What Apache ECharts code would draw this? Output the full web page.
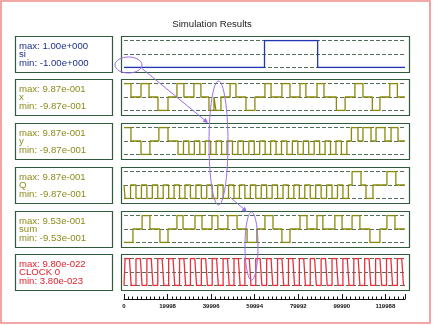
<!DOCTYPE html>
<html>
<head>
<meta charset="utf-8">
<script src="https://cdn.jsdelivr.net/npm/echarts@6/dist/echarts.min.js"></script>
<style>
  html, body { margin: 0; padding: 0; background: #fff; }
  #chart { width: 433px; height: 325px; }
</style>
</head>
<body>
<div id="chart"></div>
<script>
// time axis
const T_END = 129000
const tickStep = 19998

// panel labels
const names = ['si', 'x', 'y', 'Q', 'sum', 'CLOCK 0']
const maxLabels = ['1.00e+000', '9.87e-001', '9.87e-001', '9.87e-001', '9.53e-001', '9.80e-022']
const minLabels = ['-1.00e+000', '-9.87e-001', '-9.87e-001', '-9.87e-001', '-9.53e-001', '3.80e-023']

// signals: [time, level] change points (level -1 = min, 0 = middle, 1 = max)
const siSteps = [[0, -1], [64500, 1], [88900, -1]]
const xSteps = [[0, 1], [3200, 0], [7800, 1], [11500, 0], [15600, -1], [20200, 0], [24300, 1], [27500, 0],
  [32100, 1], [35300, 0], [39000, -1], [41300, 0], [42200, -1], [44500, 0], [48700, 1], [51400, 0],
  [56000, -1], [60100, 0], [64700, 1], [67500, 0], [72500, 1], [76200, 0], [80800, 1], [83500, 0],
  [88600, 1], [91800, 0], [97500, -1], [101500, 0], [106000, 1], [109700, 0], [114000, -1], [117500, 0],
  [122000, 1], [125500, 0]]
const ySteps = [[0, 1], [3200, 0], [7800, -1], [11900, 0], [16000, 1], [20200, 0],
  [24800, -1], [27300, 0], [29800, -1], [32300, 0], [34800, -1], [37300, 0], [39800, -1], [42300, 0],
  [44800, -1], [47300, 0], [49800, -1], [52300, 0], [54800, -1], [57300, 0], [59800, -1], [62300, 0],
  [64800, -1], [67300, 0], [69800, -1], [72300, 0], [74800, -1], [77300, 0], [79800, -1], [82300, 0],
  [84800, -1], [87300, 0], [89800, -1], [92300, 0], [94800, -1], [97300, 0], [99800, -1], [102300, 0],
  [104400, 1], [107400, 0], [109700, 1], [113400, 0], [115700, 1], [119800, 0], [122600, 1], [125800, 0]]
const qSteps = [[0, 0], [500, -1], [3000, 0], [5500, -1], [8000, 0], [10500, -1], [13000, 0],
  [15500, -1], [18000, 0], [20500, -1], [23000, 0], [25500, -1], [28000, 0], [30500, -1], [33000, 0],
  [35500, -1], [38000, 0], [40500, -1], [43000, 0], [45500, -1], [48000, 0], [50500, -1], [53000, 0],
  [55500, -1], [58000, 0], [60500, -1], [63000, 0], [65500, -1], [68000, 0], [70500, -1], [73000, 0],
  [75500, -1], [78000, 0], [80500, -1], [83000, 0], [85500, -1], [88000, 0], [90500, -1], [93000, 0],
  [95500, -1], [98000, 0], [100500, -1], [103000, 0], [104700, 1], [108800, 0], [111100, -1], [114300, 0],
  [120700, 1], [124800, 0]]
const sumSteps = [[0, -1], [4100, 0], [8300, 1], [11900, 0], [16500, -1], [20200, 0], [24300, 1], [27100, 0],
  [32600, 1], [35800, 0], [40400, 1], [43100, 0], [47700, 1], [51900, 0], [56500, -1], [61000, 0],
  [64700, 1], [68400, 0], [72500, -1], [76200, 0], [80800, 1], [84000, 0], [88600, 1], [91300, 0],
  [96800, 1], [100100, 0], [104700, 1], [108300, 0], [112900, -1], [117500, 0], [120700, 1], [124400, 0]]
// clock: [rise, fall starts, fall ends]
const clockEdges = [[500, 2500, 3300], [5500, 7500, 8300], [10500, 12500, 13300], [15500, 17500, 18300],
  [20500, 22500, 23300], [25500, 27500, 28300], [30500, 32500, 33300], [35500, 37500, 38300],
  [40500, 42500, 43300], [45500, 47500, 48300], [50500, 52500, 53300], [55500, 57500, 58300],
  [60500, 62500, 63300], [65500, 67500, 68300], [70500, 72500, 73300], [75500, 77500, 78300],
  [80500, 82500, 83300], [85500, 87500, 88300], [90500, 92500, 93300], [95500, 97500, 98300],
  [100500, 102500, 103300], [105500, 107500, 108300], [110500, 112500, 113300], [115500, 117500, 118300],
  [120500, 122500, 123300], [125500, 127500, 128300]]

const BLUE = '#2236b4'
const OLIVE = '#8a8a0c'
const RED = '#e8303c'
const BOX = '#2f5a3c'
const DASH = '#52705a'
const colors = [BLUE, OLIVE, OLIVE, OLIVE, OLIVE, RED]
const labelColors = ['#1c2f8a', '#8c8c1c', '#8c8c1c', '#8c8c1c', '#8c8c1c', '#e3202a']

const boxTop = [36, 79, 123, 167, 211, 254]
const boxH = 36

const withEnd = (steps) => steps.concat([[T_END, steps[steps.length - 1][1]]])

const clockData = [[0, -1]]
clockEdges.forEach((e) => {
  clockData.push([e[0], -1], [e[0], 1], [e[1], 1], [e[2], -1])
})
clockData.push([T_END, -1])

const signals = [siSteps, xSteps, ySteps, qSteps, sumSteps].map(withEnd)
signals.push(clockData)

const grid = []
const xAxis = []
const yAxis = []
const series = []
boxTop.forEach((top, i) => {
  grid.push({ left: 124, width: 281, top: top + 4.5, height: 27 })
  xAxis.push({ gridIndex: i, type: 'value', min: 0, max: T_END, show: false })
  yAxis.push({
    gridIndex: i,
    type: 'value',
    min: -1,
    max: 1,
    interval: 1,
    axisLine: { show: false },
    axisTick: { show: false },
    axisLabel: { show: false },
    splitLine: { show: true, lineStyle: { color: DASH, type: [4, 2], width: 1 } },
  })
  series.push({
    type: 'line',
    xAxisIndex: i,
    yAxisIndex: i,
    data: signals[i],
    step: i === 5 ? false : 'end',
    showSymbol: false,
    animation: false,
    lineStyle: { color: colors[i], width: 1.3 },
  })
})

// time axis under the panels
grid.push({ left: 124, width: 281, top: 298, height: 1 })
xAxis.push({
  gridIndex: 6,
  type: 'value',
  min: 0,
  max: T_END,
  interval: tickStep,
  axisLine: { lineStyle: { color: '#111', width: 1 } },
  axisTick: { inside: true, length: 5, lineStyle: { color: '#111' } },
  minorTick: { show: true, splitNumber: 10, length: 2.5, lineStyle: { color: '#111' } },
  splitLine: { show: false },
  axisLabel: {
    fontSize: 6,
    fontWeight: 'bold',
    color: '#111',
    margin: 4,
    fontFamily: 'Liberation Sans',
    formatter: (v) => (v % tickStep === 0 ? String(v) : ''),
  },
})
yAxis.push({ gridIndex: 6, type: 'value', show: false })

const graphic = [
  { type: 'rect', shape: { x: 1, y: 1, width: 429, height: 322 }, style: { fill: 'none', stroke: '#f08c8c', lineWidth: 1.6 } },
  {
    type: 'text', x: 212, y: 24,
    style: { text: 'Simulation Results', font: '9.6px "Liberation Sans"', fill: '#222', textAlign: 'center', textVerticalAlign: 'middle' },
  },
]
boxTop.forEach((top, i) => {
  graphic.push({ type: 'rect', shape: { x: 15.5, y: top + 0.5, width: 97, height: boxH }, style: { fill: 'none', stroke: BOX, lineWidth: 1.2 } })
  graphic.push({ type: 'rect', shape: { x: 121.5, y: top + 0.5, width: 288, height: boxH }, style: { fill: 'none', stroke: BOX, lineWidth: 1.2 } })
  graphic.push({
    type: 'text', x: 19, y: top + 5.5,
    style: {
      text: 'max: ' + maxLabels[i] + '\n' + names[i] + '\nmin: ' + minLabels[i],
      font: '9.6px "Liberation Sans"', lineHeight: 8.7, fill: labelColors[i],
    },
  })
})

// hand-drawn purple marks
const PURPLE = '#9c6ee8'
const note = { fill: 'none', stroke: PURPLE, lineWidth: 1 }
graphic.push(
  { type: 'ellipse', shape: { cx: 128.5, cy: 65, rx: 13.5, ry: 8 }, style: note, z: 10 },
  { type: 'polyline', shape: { points: [[141.7, 68.3], [207, 122]] }, style: note, z: 10 },
  { type: 'polygon', shape: { points: [[208, 123], [202.5, 121.7], [205.7, 117.9]] }, style: { fill: PURPLE }, z: 10 },
  { type: 'ellipse', shape: { cx: 218.5, cy: 143, rx: 9.5, ry: 62 }, style: note, z: 10 },
  { type: 'polyline', shape: { points: [[230, 197], [246, 211]] }, style: note, z: 10 },
  { type: 'polygon', shape: { points: [[247, 212], [241.6, 210.6], [244.9, 206.8]] }, style: { fill: PURPLE }, z: 10 },
  { type: 'ellipse', shape: { cx: 251.5, cy: 246, rx: 6.5, ry: 34 }, style: note, z: 10 }
)

const chart = echarts.init(document.getElementById('chart'), null, { renderer: 'canvas' })
chart.setOption({
  animation: false,
  backgroundColor: '#fff',
  grid,
  xAxis,
  yAxis,
  series,
  graphic,
})
</script>
</body>
</html>
